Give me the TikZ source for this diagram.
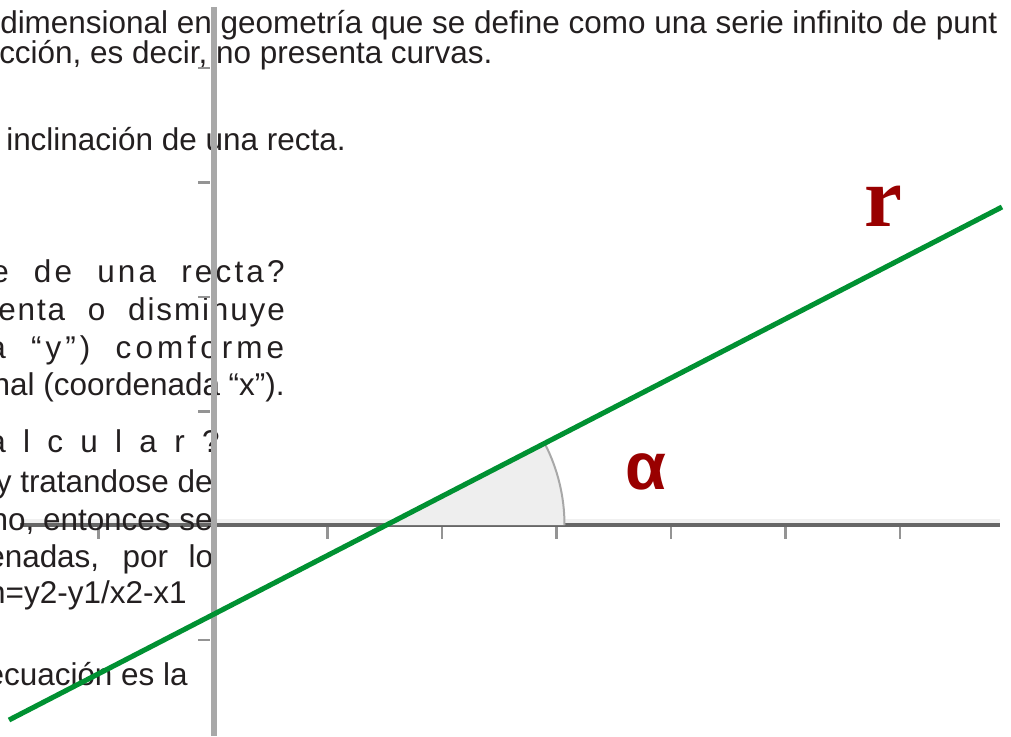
\documentclass[tikz,border=0pt]{standalone}
\usepackage{fontspec}
\setmainfont{Liberation Sans}
\newfontfamily\labelfont{Liberation Serif}
\definecolor{texto}{RGB}{35,31,32}
\definecolor{ejey}{RGB}{168,168,168}
\definecolor{ejex}{RGB}{102,102,102}
\definecolor{franja}{RGB}{240,240,240}
\definecolor{recta}{RGB}{0,145,50}
\definecolor{rojo}{RGB}{153,0,0}
\definecolor{sombra}{RGB}{238,238,238}

\begin{document}
\begin{tikzpicture}[x=0.75pt,y=-0.75pt,
    txt/.style={inner sep=0pt,text=texto,font=\fontsize{23.6}{28}\selectfont},
    marca/.style={draw=ejex!70,line width=1.8pt},
    lbl/.style={inner sep=0pt,text=rojo}]
            \useasboundingbox (0,0) rectangle (1011,736);
            \draw[franja,line width=3pt] (20,521) -- (1000,521);
            \draw[ejex,line width=3pt] (20,525) -- (1000,525);
            \foreach \x in {98.5,327.5,442,556.5,671,785.5,900}
            {
                \draw[marca] (\x,527) -- (\x,539);
            }
            \node[txt,anchor=base west] (l1) at (0,33) {dimensional en geometría que se define como una serie infinito de punt};
            \node[txt,anchor=base west] (l2) at (-1,63) {cción, es decir, no presenta curvas.};
            \node[txt,anchor=base west] (l3) at (6,150) {inclinación de una recta.};
            \node[txt,anchor=base west] (l4) at (-9,282) {\makebox[220pt][s]{\addfontfeatures{LetterSpace=10}e de una recta?}};
            \node[txt,anchor=base west] (l5) at (-2,320) {\makebox[215pt][s]{\addfontfeatures{LetterSpace=6}enta o disminuye}};
            \node[txt,anchor=base west] (l6) at (-12,358) {\makebox[222pt][s]{\addfontfeatures{LetterSpace=13}a “y”) comforme}};
            \node[txt,anchor=base east] (l7) at (285,395) {nal (coordenada “x”).};
            \node[txt,anchor=base west] (l8) at (-12,452) {\addfontfeatures{LetterSpace=55}alcular?};
            \node[txt,anchor=base east] (l9) at (213,492) {y tratandose de};
            \node[txt,anchor=base east] (l10) at (213,530) {no, entonces se};
            \node[txt,anchor=base west] (l11) at (-13,567) {\makebox[169.5pt][s]{enadas, por lo}};
            \node[txt,anchor=base east] (l12) at (187,603) {n=y2-y1/x2-x1};
            \node[txt,anchor=base east] (l13) at (188,685) {ecuación es la};
            \draw[ejey,line width=4.5pt] (213.5,7) -- (213.5,736);
            \foreach \y in {68,182.5,297,411.5,640}
            {
                \draw[marca] (198,\y) -- (210,\y);
            }
            \coordinate (O) at (386.5,525);
            \coordinate (A) at (9,720);
            \coordinate (B) at (1002,207);
            \filldraw[fill=sombra,draw=none] (O) -- ++(178,0) arc[start angle=0,end angle=-27.32,radius=178] -- cycle;
            \draw[ejey,line width=1.5pt] (O) ++(178,0) arc[start angle=0,end angle=-27.32,radius=178];
            \draw[recta,line width=3.8pt] (A) -- (B);
            \node[lbl,font=\bfseries\fontsize{50}{50}\selectfont] (alfa) at (646,472) {α};
            \node[lbl,font=\labelfont\bfseries\fontsize{64}{64}\selectfont] (erre) at (883,206) {r};
        \end{tikzpicture}
\end{document}
